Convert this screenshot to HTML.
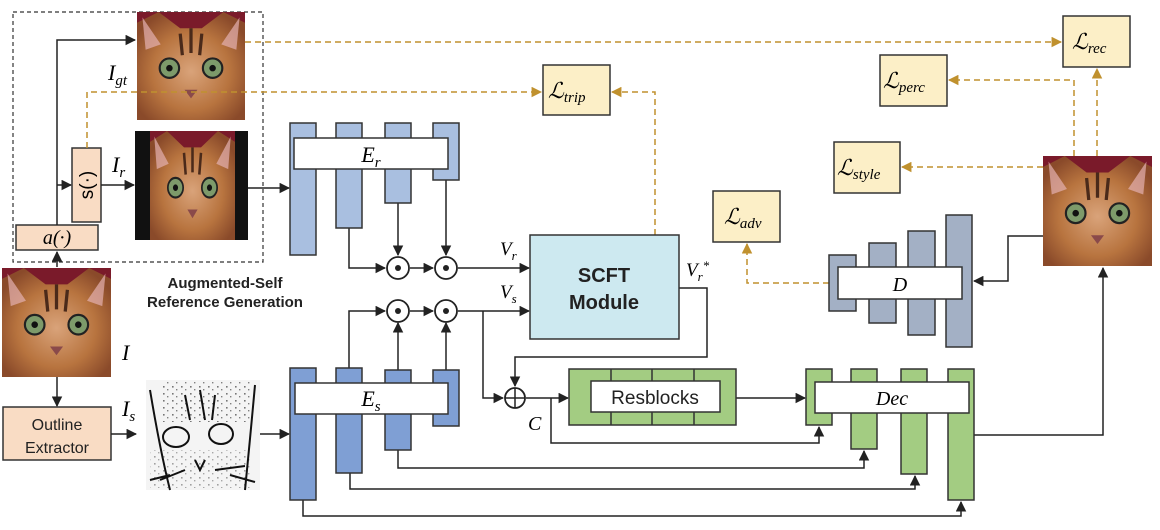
<!DOCTYPE html>
<html><head><meta charset="utf-8"><style>
html,body{margin:0;padding:0;background:#fff;}
svg{display:block;}
.t{font-family:"Liberation Serif",serif;font-style:italic;}
.s{font-family:"Liberation Sans",sans-serif;}
</style></head><body>
<svg width="1160" height="530" viewBox="0 0 1160 530" xmlns="http://www.w3.org/2000/svg">
<defs>
<marker id="a" viewBox="0 0 10 10" refX="9" refY="5" markerWidth="7" markerHeight="7" orient="auto"><path d="M0,0L10,5L0,10z" fill="#222"/></marker>
<marker id="g" viewBox="0 0 10 10" refX="9" refY="5" markerWidth="7" markerHeight="7" orient="auto"><path d="M0,0L10,5L0,10z" fill="#c0912e"/></marker>
<radialGradient id="fur" cx="50%" cy="55%" r="60%"><stop offset="0" stop-color="#d9a37a"/><stop offset="0.6" stop-color="#b8743f"/><stop offset="1" stop-color="#8a4a2a"/></radialGradient>
<pattern id="spk" width="9" height="7" patternUnits="userSpaceOnUse"><rect x="1" y="1" width="1.6" height="1.6" fill="#222"/><rect x="5" y="4" width="1.4" height="1.4" fill="#333"/></pattern>
<g id="cat">
<rect x="0" y="0" width="100" height="100" fill="#7a1a2a"/>
<path d="M0,100 L0,10 L20,0 L40,15 L60,15 L80,0 L100,10 L100,100z" fill="url(#fur)"/>
<path d="M5,5 L22,30 L8,35z M95,5 L78,30 L92,35z" fill="#e4b0b0" opacity="0.7"/>
<circle cx="30" cy="52" r="9" fill="#7d9a6a" stroke="#222" stroke-width="2"/>
<circle cx="70" cy="52" r="9" fill="#7d9a6a" stroke="#222" stroke-width="2"/>
<circle cx="30" cy="52" r="3" fill="#111"/><circle cx="70" cy="52" r="3" fill="#111"/>
<path d="M44,72 L56,72 L50,80z" fill="#8a4a4a"/>
<path d="M40,20 L42,40 M50,15 L50,38 M60,20 L58,40" stroke="#4a2a1a" stroke-width="3"/>
</g>
</defs>

<rect x="13" y="12" width="250" height="250" fill="none" stroke="#333" stroke-width="1.2" stroke-dasharray="4,3"/>

<use href="#cat" transform="translate(137,12) scale(1.08,1.08)"/>
<rect x="135" y="131" width="113" height="109" fill="#111"/>
<use href="#cat" transform="translate(150,131) scale(0.85,1.09)"/>
<use href="#cat" transform="translate(2,268) scale(1.09,1.09)"/>
<use href="#cat" transform="translate(1043,156) scale(1.09,1.1)"/>
<rect x="146" y="380" width="114" height="110" fill="#f4f4f4"/>
<rect x="160" y="382" width="90" height="40" fill="url(#spk)" opacity="0.6"/>
<rect x="150" y="450" width="100" height="38" fill="url(#spk)" opacity="0.4"/>
<g fill="none" stroke="#111" stroke-width="2">
<path d="M150,390 Q160,450 170,490 M255,385 Q250,440 245,490"/>
<ellipse cx="176" cy="437" rx="13" ry="10"/><ellipse cx="221" cy="434" rx="12" ry="10"/>
<path d="M195,460 L200,470 L205,460 M170,475 L150,480 M230,475 L255,482 M200,390 L205,420 M185,395 L190,420 M215,395 L212,420 M160,480 L185,470 M215,470 L245,466"/>
</g>

<rect x="16" y="225" width="82" height="25" fill="#f9dcc4" stroke="#333" stroke-width="1.5"/>
<text x="57" y="244" class="t" font-size="20" text-anchor="middle">a(·)</text>
<rect x="72" y="148" width="29" height="74" fill="#f9dcc4" stroke="#333" stroke-width="1.5"/>
<text class="s" font-size="19" text-anchor="middle" transform="translate(87,185) rotate(-90)" dy="6">s(·)</text>
<rect x="3" y="407" width="108" height="53" fill="#f9dcc4" stroke="#333" stroke-width="1.5"/>
<text x="57" y="430" class="s" font-size="16" text-anchor="middle" fill="#222">Outline</text>
<text x="57" y="453" class="s" font-size="16" text-anchor="middle" fill="#222">Extractor</text>
<text x="225" y="288" class="s" font-size="15" font-weight="bold" text-anchor="middle" fill="#222">Augmented-Self</text>
<text x="225" y="307" class="s" font-size="15" font-weight="bold" text-anchor="middle" fill="#222">Reference Generation</text>

<text x="108" y="80" class="t" font-size="22">I<tspan font-size="15" dy="5">gt</tspan></text>
<text x="112" y="172" class="t" font-size="22">I<tspan font-size="15" dy="5">r</tspan></text>
<text x="122" y="360" class="t" font-size="22">I</text>
<text x="122" y="416" class="t" font-size="22">I<tspan font-size="15" dy="5">s</tspan></text>

<g fill="none" stroke="#222" stroke-width="1.5">
<path d="M57,225 L57,40 L135,40" marker-end="url(#a)"/>
<path d="M57,185 L71,185" marker-end="url(#a)"/>
<path d="M101,185 L134,185" marker-end="url(#a)"/>
<path d="M57,267 L57,252" marker-end="url(#a)"/>
<path d="M57,377 L57,406" marker-end="url(#a)"/>
<path d="M111,434 L136,434" marker-end="url(#a)"/>
<path d="M248,188 L289,188" marker-end="url(#a)"/>
<path d="M260,434 L289,434" marker-end="url(#a)"/>
<path d="M349,228 L349,268 L385,268" marker-end="url(#a)"/>
<path d="M398,203 L398,255" marker-end="url(#a)"/>
<path d="M446,180 L446,255" marker-end="url(#a)"/>
<path d="M410,268 L433,268" marker-end="url(#a)"/>
<path d="M458,268 L529,268" marker-end="url(#a)"/>
<path d="M349,368 L349,311 L385,311" marker-end="url(#a)"/>
<path d="M398,370 L398,323" marker-end="url(#a)"/>
<path d="M446,370 L446,323" marker-end="url(#a)"/>
<path d="M410,311 L433,311" marker-end="url(#a)"/>
<path d="M458,311 L529,311" marker-end="url(#a)"/>
<path d="M483,311 L483,398 L503,398" marker-end="url(#a)"/>
<path d="M679,288 L707,288 L707,357 L515,357 L515,386" marker-end="url(#a)"/>
<path d="M526,398 L568,398" marker-end="url(#a)"/>
<path d="M551,398 L551,443 L819,443 L819,427" marker-end="url(#a)"/>
<path d="M736,398 L805,398" marker-end="url(#a)"/>
<path d="M398,450 L398,468 L864,468 L864,451" marker-end="url(#a)"/>
<path d="M350,473 L350,489 L915,489 L915,476" marker-end="url(#a)"/>
<path d="M303,500 L303,516 L961,516 L961,502" marker-end="url(#a)"/>
<path d="M974,435 L1103,435 L1103,268" marker-end="url(#a)"/>
<path d="M1043,236 L1008,236 L1008,281 L974,281" marker-end="url(#a)"/>
</g>

<g fill="none" stroke="#c0912e" stroke-width="1.5" stroke-dasharray="6,4">
<path d="M245,42 L1061,42" marker-end="url(#g)"/>
<path d="M87,148 L87,92 L541,92" marker-end="url(#g)"/>
<path d="M655,235 L655,92 L612,92" marker-end="url(#g)"/>
<path d="M1097,156 L1097,69" marker-end="url(#g)"/>
<path d="M1074,156 L1074,80 L949,80" marker-end="url(#g)"/>
<path d="M1043,167 L902,167" marker-end="url(#g)"/>
<path d="M829,283 L747,283 L747,244" marker-end="url(#g)"/>
</g>

<g fill="#a9bfe0" stroke="#333" stroke-width="1.5">
<rect x="290" y="123" width="26" height="132"/><rect x="336" y="123" width="26" height="105"/>
<rect x="385" y="123" width="26" height="80"/><rect x="433" y="123" width="26" height="57"/>
</g>
<rect x="294" y="138" width="154" height="31" fill="#fff" stroke="#333" stroke-width="1.5"/>
<text x="371" y="162" class="t" font-size="22" text-anchor="middle">E<tspan font-size="15" dy="5">r</tspan></text>
<g fill="#7f9fd4" stroke="#333" stroke-width="1.5">
<rect x="290" y="368" width="26" height="132"/><rect x="336" y="368" width="26" height="105"/>
<rect x="385" y="370" width="26" height="80"/><rect x="433" y="370" width="26" height="56"/>
</g>
<rect x="295" y="383" width="153" height="31" fill="#fff" stroke="#333" stroke-width="1.5"/>
<text x="371" y="406" class="t" font-size="22" text-anchor="middle">E<tspan font-size="15" dy="5">s</tspan></text>

<g fill="#fff" stroke="#222" stroke-width="1.8">
<circle cx="398" cy="268" r="11"/><circle cx="446" cy="268" r="11"/>
<circle cx="398" cy="311" r="11"/><circle cx="446" cy="311" r="11"/>
<circle cx="515" cy="398" r="10"/>
</g>
<g fill="#222"><circle cx="398" cy="268" r="3"/><circle cx="446" cy="268" r="3"/><circle cx="398" cy="311" r="3"/><circle cx="446" cy="311" r="3"/></g>
<path d="M505,398 L525,398 M515,388 L515,408" stroke="#222" stroke-width="1.5"/>
<text x="528" y="430" class="t" font-size="20">C</text>

<rect x="530" y="235" width="149" height="104" fill="#cde9f0" stroke="#333" stroke-width="1.5"/>
<text x="604" y="282" class="s" font-size="20" font-weight="bold" text-anchor="middle" fill="#222">SCFT</text>
<text x="604" y="309" class="s" font-size="20" font-weight="bold" text-anchor="middle" fill="#222">Module</text>
<text x="500" y="255" class="t" font-size="19">V<tspan font-size="13" dy="5">r</tspan></text>
<text x="500" y="298" class="t" font-size="19">V<tspan font-size="13" dy="5">s</tspan></text>
<text x="686" y="276" class="t" font-size="19">V<tspan font-size="13" dy="5">r</tspan><tspan font-size="13" dy="-11">*</tspan></text>

<rect x="569" y="369" width="167" height="56" fill="#a3cc82" stroke="#333" stroke-width="1.5"/>
<path d="M611,369V425M652,369V425M694,369V425" stroke="#333" stroke-width="1.5"/>
<rect x="591" y="381" width="129" height="31" fill="#fff" stroke="#333" stroke-width="1.5"/>
<text x="655" y="404" class="s" font-size="19" text-anchor="middle" fill="#222">Resblocks</text>

<g fill="#a3cc82" stroke="#333" stroke-width="1.5">
<rect x="806" y="369" width="26" height="56"/><rect x="851" y="369" width="26" height="80"/>
<rect x="901" y="369" width="26" height="105"/><rect x="948" y="369" width="26" height="131"/>
</g>
<rect x="815" y="382" width="154" height="31" fill="#fff" stroke="#333" stroke-width="1.5"/>
<text x="892" y="405" class="t" font-size="20" text-anchor="middle">Dec</text>

<g fill="#a3b0c5" stroke="#333" stroke-width="1.5">
<rect x="829" y="255" width="27" height="56"/><rect x="869" y="243" width="27" height="80"/>
<rect x="908" y="231" width="27" height="104"/><rect x="946" y="215" width="26" height="132"/>
</g>
<rect x="838" y="267" width="124" height="32" fill="#fff" stroke="#333" stroke-width="1.5"/>
<text x="900" y="291" class="t" font-size="20" text-anchor="middle">D</text>

<g fill="#fcefc7" stroke="#333" stroke-width="1.5">
<rect x="543" y="65" width="67" height="50"/><rect x="1063" y="16" width="67" height="51"/>
<rect x="880" y="55" width="67" height="51"/><rect x="834" y="142" width="66" height="51"/>
<rect x="713" y="191" width="67" height="51"/>
</g>
<text x="548" y="98" class="t" font-size="22">ℒ<tspan font-size="15" dy="4">trip</tspan></text>
<text x="1072" y="49" class="t" font-size="22">ℒ<tspan font-size="15" dy="4">rec</tspan></text>
<text x="883" y="88" class="t" font-size="22">ℒ<tspan font-size="15" dy="4">perc</tspan></text>
<text x="837" y="175" class="t" font-size="22">ℒ<tspan font-size="15" dy="4">style</tspan></text>
<text x="724" y="224" class="t" font-size="22">ℒ<tspan font-size="15" dy="4">adv</tspan></text>
</svg>
</body></html>
